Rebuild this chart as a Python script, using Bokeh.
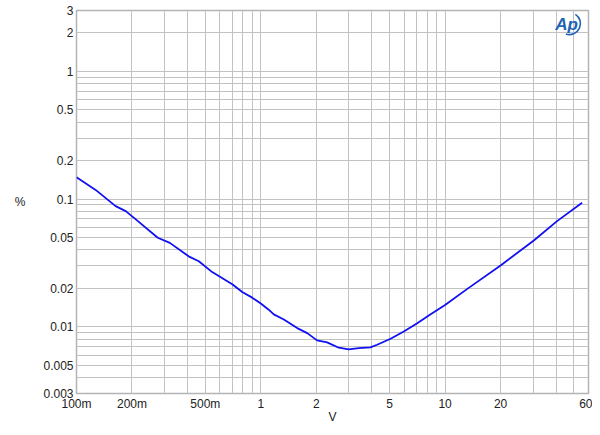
from bokeh.plotting import figure
from bokeh.models import FixedTicker, Label
from bokeh.embed import file_html
from bokeh.resources import INLINE

# Data (V vs % THD+N)
volts = [0.1, 0.127, 0.163, 0.185, 0.213, 0.276, 0.321, 0.406, 0.461, 0.545,
         0.70, 0.793, 0.898, 1.0, 1.104, 1.176, 1.334, 1.576, 1.786, 2.02,
         2.29, 2.65, 3.0, 3.4, 3.93, 4.28, 5.06, 5.97, 7.06, 8.27,
         10.0, 13.2, 20.0, 30.3, 40.5, 55.4]
percent = [0.148, 0.118, 0.088, 0.0804, 0.0681, 0.0498, 0.0454, 0.0356, 0.0326, 0.0268,
           0.0215, 0.0187, 0.0169, 0.0152, 0.0136, 0.0125, 0.0114, 0.00976, 0.00891, 0.00782,
           0.00754, 0.00685, 0.00664, 0.00679, 0.0069, 0.00723, 0.00805, 0.00919, 0.01067, 0.01241,
           0.0148, 0.0198, 0.0302, 0.0474, 0.0672, 0.0936]

x_ticks = [0.1, 0.2, 0.5, 1, 2, 5, 10, 20, 60]
x_tick_labels = ["100m", "200m", "500m", "1", "2", "5", "10", "20", "60"]
y_ticks = [0.003, 0.005, 0.01, 0.02, 0.05, 0.1, 0.2, 0.5, 1, 2, 3]
y_tick_labels = ["0.003", "0.005", "0.01", "0.02", "0.05", "0.1", "0.2", "0.5", "1", "2", "3"]
x_title = "V"
y_title = "%"

x_minor = [round(k * 10.0 ** e, 6) for e in (-1, 0, 1) for k in range(1, 10) if k * 10.0 ** e <= 60]
y_minor = [round(k * 10.0 ** e, 6) for e in (-3, -2, -1, 0) for k in range(1, 10)
           if 0.003 <= k * 10.0 ** e <= 3]

p = figure(width=592, height=427, x_axis_type="log", y_axis_type="log",
           x_range=(0.1, 60), y_range=(0.003, 3),
           output_backend="svg", toolbar_location=None,
           min_border_left=76, min_border_right=4, min_border_top=10, min_border_bottom=34)
p.background_fill_color = "white"
p.border_fill_color = "white"
p.outline_line_color = "#b4b4b4"
p.outline_line_width = 1.5

p.xaxis.ticker = FixedTicker(ticks=x_ticks, minor_ticks=x_minor)
p.yaxis.ticker = FixedTicker(ticks=y_ticks, minor_ticks=y_minor)
p.xaxis.major_label_overrides = dict(zip(x_ticks, x_tick_labels))
p.yaxis.major_label_overrides = dict(zip(y_ticks, y_tick_labels))

for ax in (p.xaxis[0], p.yaxis[0]):
    ax.axis_line_color = None
    ax.major_tick_line_color = None
    ax.minor_tick_line_color = None
    ax.major_tick_out = 0
    ax.minor_tick_out = 0
    ax.major_label_text_font = "Liberation Sans"
    ax.major_label_text_font_size = "12px"
    ax.major_label_text_color = "#222222"
    ax.axis_label_text_font = "Liberation Sans"
    ax.axis_label_text_font_style = "normal"
    ax.axis_label_text_font_size = "12px"
    ax.axis_label_text_color = "#222222"
p.yaxis.major_label_standoff = 3
p.xaxis.major_label_standoff = 3

p.xaxis.axis_label = x_title
p.xaxis.axis_label_standoff = -4
p.yaxis.axis_label = y_title
p.yaxis.axis_label_standoff = 15
try:
    p.yaxis.axis_label_orientation = "horizontal"
except Exception:
    pass

for g in (p.xgrid[0], p.ygrid[0]):
    g.grid_line_color = "#c2c2c2"
    g.grid_line_width = 1
    g.minor_grid_line_color = "#c2c2c2"
    g.minor_grid_line_width = 1

p.line(volts, percent, line_color="#1010f0", line_width=1.8)

# Ap logo
p.add_layout(Label(x=45.6, y=2.33, text="Ap", text_align="center", text_baseline="middle",
                   text_font="Liberation Sans", text_font_size="17px", text_font_style="bold italic",
                   text_color="#1f63b5"))
p.arc(x=[47.3], y=[2.37], radius=11, radius_units="screen", start_angle=-1.9, end_angle=1.0,
      line_color="#1f63b5", line_width=1.6)

open("out.html", "w").write(file_html(p, INLINE))
